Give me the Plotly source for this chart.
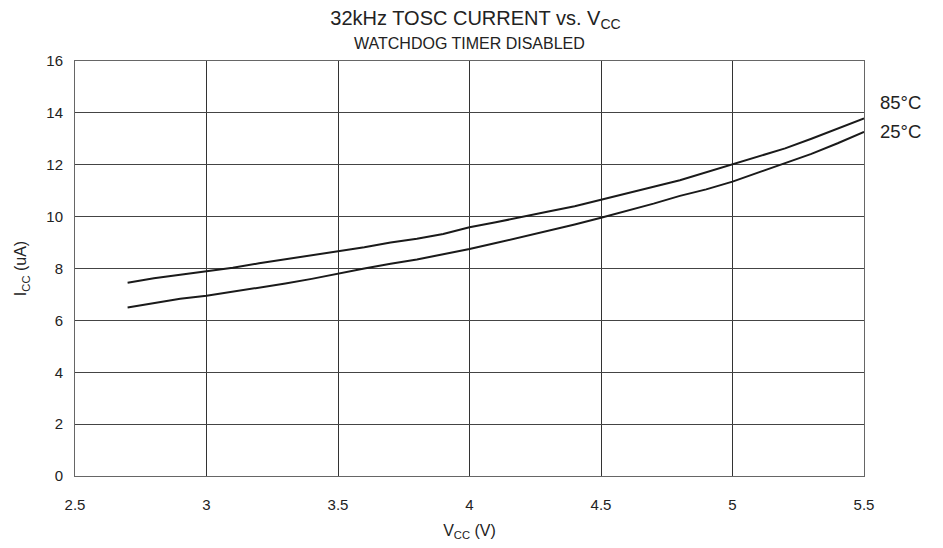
import plotly.graph_objects as go

vcc = [2.7, 2.8, 2.9, 3.0, 3.1, 3.2, 3.3, 3.4, 3.5, 3.6, 3.7, 3.8, 3.9, 4.0,
       4.1, 4.2, 4.3, 4.4, 4.5, 4.6, 4.7, 4.8, 4.9, 5.0, 5.1, 5.2, 5.3, 5.4, 5.5]
icc_85 = [7.45, 7.62, 7.76, 7.90, 8.03, 8.20, 8.35, 8.50, 8.67, 8.82, 9.00, 9.15,
          9.33, 9.59, 9.78, 10.0, 10.2, 10.4, 10.64, 10.9, 11.15, 11.4, 11.7,
          12.03, 12.3, 12.63, 13.0, 13.4, 13.79]
icc_25 = [6.50, 6.66, 6.83, 6.95, 7.10, 7.25, 7.42, 7.60, 7.81, 8.00, 8.18, 8.35,
          8.55, 8.75, 8.98, 9.22, 9.45, 9.70, 9.96, 10.22, 10.5, 10.8, 11.05,
          11.35, 11.7, 12.05, 12.42, 12.83, 13.27]
labels = ["85°C", "25°C"]
label_y = [14.4, 13.3]

FONT = "Liberation Sans, Arial, sans-serif"

fig = go.Figure()
for ys, name in zip([icc_85, icc_25], labels):
    fig.add_trace(go.Scatter(x=vcc, y=ys, mode="lines", name=name,
                             line=dict(color="#1a1a1a", width=2),
                             showlegend=False))

# curve labels right of the plot
for txt, ly in zip(labels, label_y):
    fig.add_annotation(x=1.0, xref="paper", xanchor="left", xshift=14,
                       y=ly, yref="y", text=txt, showarrow=False,
                       font=dict(size=18.5, color="#222"))

fig.add_annotation(x=0.5, xref="paper", y=1.0, yref="paper", yanchor="middle",
                   yshift=18, text="WATCHDOG TIMER DISABLED", showarrow=False,
                   font=dict(size=16, color="#222"))

fig.update_layout(
    width=935, height=540,
    margin=dict(l=64, r=79, t=53, b=72),
    paper_bgcolor="white", plot_bgcolor="white",
    font=dict(family=FONT, color="#222", size=15),
    title=dict(text="32kHz TOSC CURRENT vs. V<sub>CC</sub>", x=0.5, xanchor="center",
               y=1 - 10 / 540, yref="container", yanchor="middle",
               font=dict(size=20, color="#222")),
    xaxis=dict(range=[2.5, 5.5], dtick=0.5, showgrid=True, gridcolor="#333",
               gridwidth=1, zeroline=False, showline=True, linecolor="#666",
               mirror=True, ticks="outside", ticklen=15, tickcolor="white",
               tickfont=dict(size=15),
               title=dict(text="V<sub>CC</sub> (V)", font=dict(size=16), standoff=12)),
    yaxis=dict(range=[0, 16], dtick=2, showgrid=True, gridcolor="#444",
               gridwidth=1, zeroline=False, showline=True, linecolor="#666",
               mirror=True, ticks="outside", ticklen=8, tickcolor="white",
               tickfont=dict(size=15),
               title=dict(text="I<sub>CC</sub> (uA)", font=dict(size=16), standoff=15)),
)

fig.write_html("out.html")
